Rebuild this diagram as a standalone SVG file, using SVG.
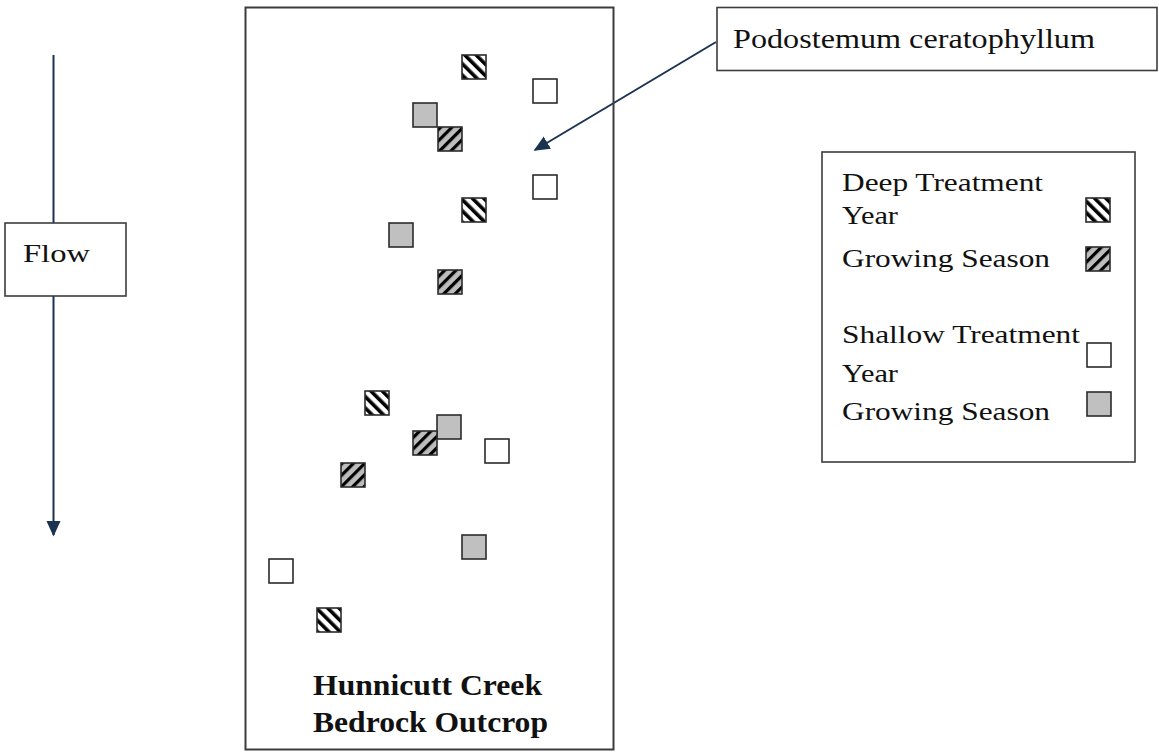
<svg xmlns="http://www.w3.org/2000/svg" width="1159" height="755" viewBox="0 0 1159 755">
<style>
.box{fill:#fff;stroke:#3c3c3c;stroke-width:1.6}
.sq{stroke:#2b2b2b;stroke-width:1.6}
.t{font-family:"Liberation Serif","Times New Roman",serif;font-size:25px;fill:#111}
.tb{font-family:"Liberation Serif","Times New Roman",serif;font-size:29px;font-weight:bold;fill:#111}
.con{stroke:#1b3352;stroke-width:2;fill:none}
.dy{fill:url(#hatchYear)}
.dg{fill:url(#hatchGrow)}
.sy{fill:#fff}
.sg{fill:#c0c0c0}
</style>
<defs>
<pattern id="hatchYear" patternUnits="userSpaceOnUse" width="8" height="8" patternTransform="rotate(-45)">
<rect width="8" height="8" fill="#fff"/>
<rect width="3.6" height="8" fill="#000"/>
</pattern>
<pattern id="hatchGrow" patternUnits="userSpaceOnUse" width="8" height="8" patternTransform="rotate(45)">
<rect width="8" height="8" fill="#bdbdbd"/>
<rect width="3.2" height="8" fill="#000"/>
</pattern>
<marker id="arrL" viewBox="0 0 10 10" refX="9" refY="5" markerWidth="16" markerHeight="16" orient="auto" markerUnits="userSpaceOnUse">
<path d="M0,0.5 L10,5 L0,9.5 z" fill="#1b3352"/>
</marker>
</defs>

<g id="connectors">
<line class="con" x1="53.5" y1="55" x2="53.5" y2="535" marker-end="url(#arrL)"/>
<line class="con" x1="716" y1="42" x2="535" y2="150" marker-end="url(#arrL)"/>
</g>

<g id="outcrop">
<rect x="245.5" y="7.5" width="368" height="742" style="fill:none;stroke:#3c3c3c;stroke-width:2"/>
<text class="tb" x="313" y="695" textLength="229" lengthAdjust="spacingAndGlyphs">Hunnicutt Creek</text>
<text class="tb" x="313" y="732" textLength="235" lengthAdjust="spacingAndGlyphs">Bedrock Outcrop</text>
</g>

<g id="flow">
<rect class="box" x="5" y="223" width="121" height="73"/>
<text class="t" x="23" y="262" style="font-size:26px" textLength="67" lengthAdjust="spacingAndGlyphs">Flow</text>
</g>

<g id="podostemum">
<rect class="box" x="717" y="7.5" width="440" height="63"/>
<text class="t" x="733" y="48" style="font-size:27px" textLength="362" lengthAdjust="spacingAndGlyphs">Podostemum ceratophyllum</text>
</g>

<g id="squares">
<g id="shallow-growing-1"><rect class="sq sg" x="413" y="103" width="24" height="24"/></g>
<g id="shallow-growing-2"><rect class="sq sg" x="389" y="223" width="24" height="24"/></g>
<g id="shallow-growing-3"><rect class="sq sg" x="437" y="415" width="24" height="24"/></g>
<g id="shallow-growing-4"><rect class="sq sg" x="462" y="535" width="24" height="24"/></g>
<g id="deep-year-1"><rect class="sq dy" x="462" y="55" width="24" height="24"/></g>
<g id="deep-year-2"><rect class="sq dy" x="462" y="198" width="24" height="24"/></g>
<g id="deep-year-3"><rect class="sq dy" x="365" y="391" width="24" height="24"/></g>
<g id="deep-year-4"><rect class="sq dy" x="317" y="608" width="24" height="24"/></g>
<g id="deep-growing-1"><rect class="sq dg" x="438" y="127" width="24" height="24"/></g>
<g id="deep-growing-2"><rect class="sq dg" x="438" y="270" width="24" height="24"/></g>
<g id="deep-growing-3"><rect class="sq dg" x="413" y="431" width="24" height="24"/></g>
<g id="deep-growing-4"><rect class="sq dg" x="341" y="463" width="24" height="24"/></g>
<g id="shallow-year-1"><rect class="sq sy" x="533" y="79" width="24" height="24"/></g>
<g id="shallow-year-2"><rect class="sq sy" x="533" y="175" width="24" height="24"/></g>
<g id="shallow-year-3"><rect class="sq sy" x="485" y="439" width="24" height="24"/></g>
<g id="shallow-year-4"><rect class="sq sy" x="269" y="559" width="24" height="24"/></g>
</g>

<g id="legend">
<rect class="box" x="822" y="152" width="313" height="310"/>
<text class="t" x="842" y="191" textLength="201" lengthAdjust="spacingAndGlyphs">Deep Treatment</text>
<text class="t" x="842" y="224" textLength="56" lengthAdjust="spacingAndGlyphs">Year</text>
<text class="t" x="842" y="267" textLength="208" lengthAdjust="spacingAndGlyphs">Growing Season</text>
<text class="t" x="842" y="343" textLength="238" lengthAdjust="spacingAndGlyphs">Shallow Treatment</text>
<text class="t" x="842" y="382" textLength="56" lengthAdjust="spacingAndGlyphs">Year</text>
<text class="t" x="842" y="420" textLength="208" lengthAdjust="spacingAndGlyphs">Growing Season</text>
<rect class="sq dy" x="1086" y="198" width="24" height="24"/>
<rect class="sq dg" x="1086" y="247" width="24" height="24"/>
<rect class="sq sy" x="1087" y="343" width="24" height="24"/>
<rect class="sq sg" x="1087" y="392" width="24" height="24"/>
</g>
</svg>
